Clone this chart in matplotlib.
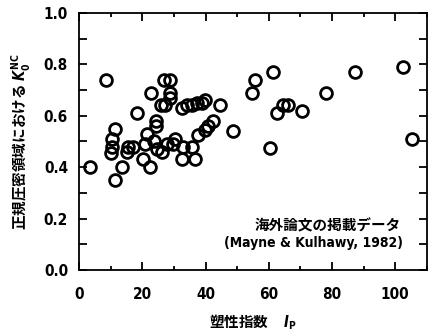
import matplotlib
matplotlib.use("Agg")
import matplotlib.pyplot as plt
from matplotlib.ticker import MultipleLocator

plt.rcParams['font.family'] = ['DejaVu Sans', 'Noto Sans CJK JP']
plt.rcParams['font.stretch'] = 'condensed'
plt.rcParams['mathtext.fontset'] = 'custom'
plt.rcParams['mathtext.it'] = 'DejaVu Sans:italic:bold'
plt.rcParams['mathtext.rm'] = 'DejaVu Sans:bold'

# plasticity index Ip and K0 (NC)
ip = [3.3, 8.5, 22.7, 18.3, 11.4, 10.4, 10.4, 10.1, 13.6, 11.4,
      15.5, 15.2, 17.0, 20.9, 21.5, 20.2, 22.5, 23.7, 24.6, 24.3,
      24.3, 25.9, 27.0, 28.8, 28.8, 28.8, 27.2, 32.5, 34.0, 35.7,
      37.3, 38.9, 39.8, 44.5, 42.3, 40.8, 39.8, 48.6, 37.6, 35.7,
      36.6, 32.5, 32.9, 30.3, 29.7, 27.8, 26.2, 55.6, 54.7, 61.3,
      78.0, 64.5, 66.0, 62.6, 70.5, 60.3, 87.2, 102.4, 105.2]
k0 = [0.40, 0.74, 0.69, 0.61, 0.55, 0.51, 0.48, 0.455, 0.40, 0.35,
      0.48, 0.46, 0.48, 0.49, 0.53, 0.43, 0.40, 0.50, 0.47, 0.58,
      0.56, 0.64, 0.74, 0.74, 0.69, 0.67, 0.64, 0.63, 0.64, 0.64,
      0.65, 0.65, 0.66, 0.64, 0.58, 0.56, 0.545, 0.54, 0.525, 0.48,
      0.43, 0.43, 0.48, 0.51, 0.49, 0.49, 0.46, 0.74, 0.69, 0.77,
      0.69, 0.64, 0.64, 0.61, 0.62, 0.475, 0.77, 0.79, 0.51]

jp = ['Noto Sans CJK JP', 'DejaVu Sans']

fig = plt.figure(figsize=(4.28, 3.34), dpi=100)
ax = fig.add_axes([0.185, 0.192, 0.812, 0.769])

ax.plot(ip, k0, 'o', mfc='none', mec='black', ms=8.5, mew=2.0, clip_on=False)

ax.set_xlim(0, 110)
ax.set_ylim(0, 1.0)
ax.xaxis.set_major_locator(MultipleLocator(20))
ax.xaxis.set_minor_locator(MultipleLocator(10))
ax.yaxis.set_major_locator(MultipleLocator(0.2))
ax.yaxis.set_minor_locator(MultipleLocator(0.1))
ax.set_yticklabels(['%.1f' % v for v in ax.get_yticks()])
ax.tick_params(which='both', direction='in', top=True, right=True, width=1.3)
ax.tick_params(which='major', length=6, labelsize=11)
ax.tick_params(axis='x', which='major', pad=12)
ax.tick_params(axis='y', which='major', pad=8)
ax.tick_params(axis='y', which='minor', length=6)
ax.tick_params(axis='x', which='minor', length=3)
for lab in ax.get_xticklabels() + ax.get_yticklabels():
    lab.set_fontweight('bold')
for s in ax.spines.values():
    s.set_linewidth(1.3)

ax.set_xlabel('塑性指数     $I_\\mathrm{P}$', fontsize=10.5, fontweight='bold',
              family=jp, labelpad=8)
ax.set_ylabel('正規圧密領域における $K_0^{\\mathrm{NC}}$', fontsize=10.5,
              fontweight='bold', family=jp, labelpad=8)

ax.text(0.925, 0.152, '海外論文の掲載データ', transform=ax.transAxes, ha='right',
        fontsize=10.5, fontweight='bold', family=jp)
ax.text(0.932, 0.09, '(Mayne & Kulhawy, 1982)', transform=ax.transAxes, ha='right',
        fontsize=10, fontweight='bold')

fig.savefig('out.png', dpi=100)
